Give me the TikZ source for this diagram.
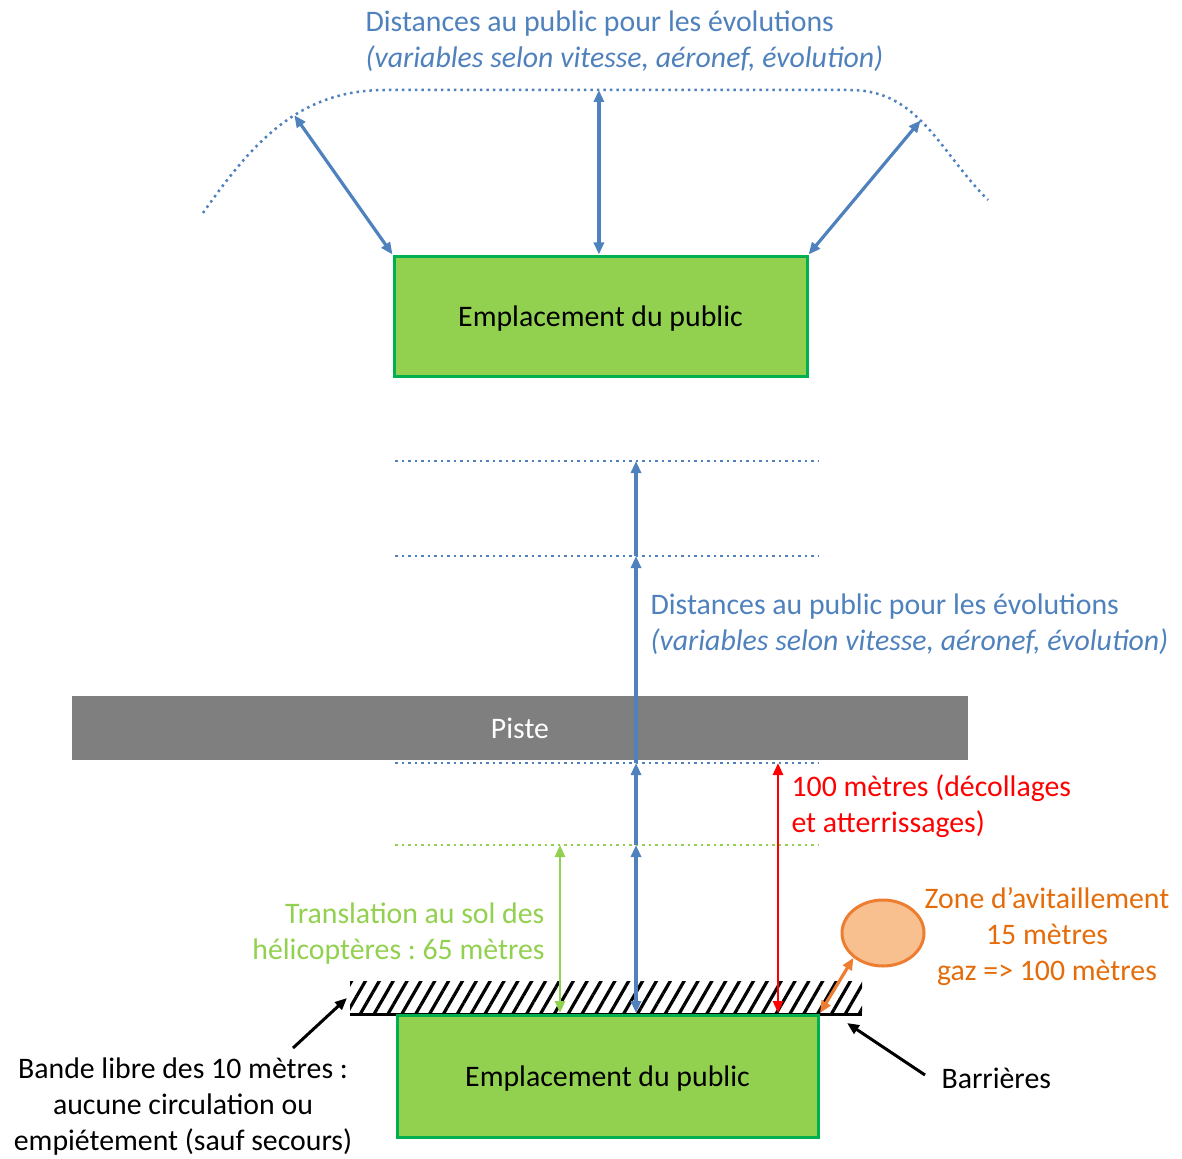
\documentclass[tikz,border=0pt]{standalone}
\usepackage{fontspec}
\setmainfont{Carlito}
\usetikzlibrary{arrows.meta,patterns.meta,shapes.geometric}
\definecolor{bleu}{HTML}{4F81BD}
\definecolor{vert}{HTML}{92D050}
\definecolor{vertfonce}{HTML}{00B050}
\definecolor{gris}{HTML}{7F7F7F}
\definecolor{orangetxt}{HTML}{E46C0A}
\definecolor{orangebord}{HTML}{ED7D31}
\definecolor{orangefond}{HTML}{F8BF8F}
\frenchspacing
\tikzset{
  every node/.style={font=\fontsize{29.8}{36}\selectfont},
  public/.style={draw=vertfonce, line width=3pt, fill=vert, minimum width=413pt, minimum height=120pt, inner sep=0pt, text depth=0pt},
  fleche/.style={line width=3.2pt, {Triangle[length=12pt,width=10pt]}-{Triangle[length=12pt,width=10pt]}},
  pointe/.style={line width=3.2pt, -{Triangle[length=12pt,width=10pt]}},
  pointille/.style={line width=2.5pt, dash pattern=on 2.5pt off 4pt},
}
\begin{document}
\begin{tikzpicture}[x=1pt,y=-1pt]
\useasboundingbox (0,0) rectangle (1182,1158);

% Emplacement du haut et distances
\node[public] (haut) at (600.5,316) {Emplacement du public};
\draw[pointille, bleu] (203,213) to[out=55,in=180] coordinate[pos=0.58] (cg) (385,90) -- coordinate[pos=0.46] (cm) (850,90) to[out=0,in=135] coordinate[pos=0.45] (cd) (988,200);
\draw[fleche, bleu] (cg) -- (haut.north west);
\draw[fleche, bleu] (cm) -- (cm |- haut.north);
\draw[fleche, bleu] (cd) -- (haut.north east);
\node[bleu, anchor=west, align=left] (titre) at (362,41) {Distances au public pour les évolutions\\\textit{(variables selon vitesse, aéronef, évolution)}};

% Piste
\node[fill=gris, text=white, minimum width=896pt, minimum height=64pt, inner sep=0pt] (piste) at (520,728) {Piste};

% lignes pointillées
\draw[pointille, bleu] (395,461) -- (818,461);
\draw[pointille, bleu] (395,556) -- (818,556);
\draw[pointille, bleu] (395,763) -- (818,763);
\draw[pointille, vert] (395,845) -- (818,845);

% Bande libre et barrières
\fill[pattern={Lines[angle=60,distance=12pt,line width=3.2pt]}] (350,981) rectangle (862,1013);
\draw[line width=3pt] (350,1014) -- (862,1014);
\node[public, minimum width=421pt, minimum height=122pt] (bas) at (607.5,1076) {Emplacement du public};

% flèches verticales
\coordinate (b0) at (636,1013);
\coordinate (b1) at (636,845);
\coordinate (b2) at (636,763);
\coordinate (b3) at (636,556);
\coordinate (b4) at (636,461);
\draw[fleche, bleu] (b0) -- (b1);
\draw[pointe, bleu] (b1) -- (b2);
\draw[pointe, bleu] (b2) -- (b3);
\draw[pointe, bleu] (b3) -- (b4);
\draw[fleche, red, line width=2.5pt] (778,1013) -- (778,763);
\draw[fleche, vert, line width=2.5pt] (560,1013) -- (560,845);

\node[bleu, anchor=west, align=left] (distances) at (647,624) {Distances au public pour les évolutions\\\textit{(variables selon vitesse, aéronef, évolution)}};
\node[red, anchor=west, align=left] (decollage) at (788,806) {100 mètres (décollages\\et atterrissages)};
\node[vert, anchor=east, align=right] (translation) at (548,934) {Translation au sol des\\hélicoptères : 65 mètres};

% Zone d'avitaillement
\node[ellipse, draw=orangebord, line width=3pt, fill=orangefond, minimum width=82pt, minimum height=66pt] (avit) at (883,933) {};
\draw[fleche, orangebord] (820,1013) -- (avit.220);
\node[orangetxt, align=center] (avittxt) at (1047,937) {Zone d’avitaillement\\15 mètres\\gaz => 100 mètres};

% légendes
\node[align=center] (bande) at (183,1107) {Bande libre des 10 mètres :\\aucune circulation ou\\empiétement (sauf secours)};
\draw[pointe, line width=3pt] (293,1048) -- (347,998);
\node[anchor=west] (barrieres) at (938,1078) {Barrières};
\draw[pointe, line width=3pt] (925,1075) -- (847,1023);
\end{tikzpicture}
\end{document}
